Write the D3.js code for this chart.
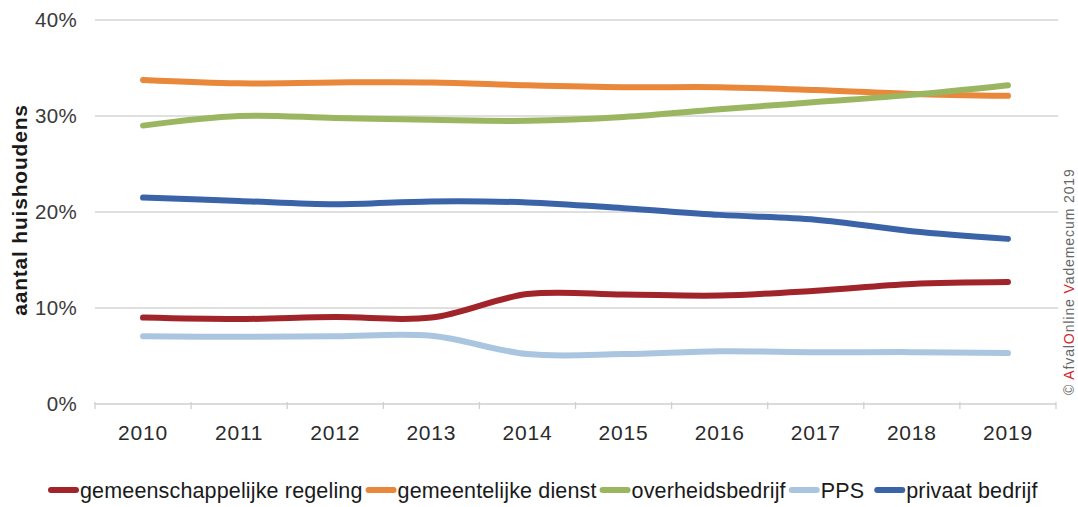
<!DOCTYPE html>
<html>
<head>
<meta charset="utf-8">
<script src="https://cdn.jsdelivr.net/npm/d3@7"></script>
<style>
  html, body { margin: 0; padding: 0; background: #fff; }
  svg { display: block; font-family: "Liberation Sans", Arial, Helvetica, sans-serif; }
</style>
</head>
<body>
<svg id="chart" width="1078" height="507"></svg>
<script>
// Aandeel huishoudens per type inzameldienst, 2010-2019 (in %)
const years = ["2010", "2011", "2012", "2013", "2014", "2015", "2016", "2017", "2018", "2019"];
const yTicks = [0, 10, 20, 30, 40];

const gemeenschappelijkeRegeling = [9.0, 8.85, 9.05, 9.0, 11.45, 11.4, 11.3, 11.8, 12.5, 12.7];
const gemeentelijkeDienst        = [33.75, 33.4, 33.5, 33.5, 33.2, 33.0, 33.0, 32.7, 32.3, 32.1];
const overheidsbedrijf           = [29.0, 30.0, 29.8, 29.6, 29.5, 29.9, 30.7, 31.45, 32.2, 33.2];
const pps                        = [7.05, 7.0, 7.05, 7.1, 5.2, 5.2, 5.5, 5.4, 5.4, 5.3];
const privaatBedrijf             = [21.5, 21.15, 20.8, 21.1, 21.0, 20.4, 19.7, 19.2, 18.0, 17.2];

const seriesNames  = ["gemeenschappelijke regeling", "gemeentelijke dienst", "overheidsbedrijf", "PPS", "privaat bedrijf"];
const seriesColors = ["#a1242a", "#e9883a", "#9bb660", "#a9c5e0", "#3a63a8"];
const seriesValues = [gemeenschappelijkeRegeling, gemeentelijkeDienst, overheidsbedrijf, pps, privaatBedrijf];

const svg = d3.select("#chart");
const plotLeft = 95, plotRight = 1056, plotTop = 20, plotBottom = 404;

const x = d3.scalePoint().domain(years).range([plotLeft, plotRight]).padding(0.5);
const band = d3.scaleBand().domain(years).range([plotLeft, plotRight]);
const y = d3.scaleLinear().domain([0, 40]).range([plotBottom, plotTop]);

// gridlines
svg.append("g")
  .selectAll("line")
  .data(yTicks.filter(d => d > 0))
  .join("line")
  .attr("x1", plotLeft).attr("x2", 1058)
  .attr("y1", d => y(d)).attr("y2", d => y(d))
  .attr("stroke", "#d4d4d4").attr("stroke-width", 1.3);

// y tick labels
svg.append("g")
  .selectAll("text")
  .data(yTicks)
  .join("text")
  .attr("x", 77)
  .attr("y", d => y(d))
  .attr("dy", "0.35em")
  .attr("text-anchor", "end")
  .attr("fill", "#3a3a3a")
  .attr("font-size", 20.5)
  .attr("letter-spacing", 0.3)
  .text(d => d + "%");

// x axis with category boundary ticks
const xAxis = svg.append("g").attr("transform", `translate(0,${plotBottom})`);
xAxis.append("line")
  .attr("x1", plotLeft).attr("x2", plotRight)
  .attr("stroke", "#cfcfcf").attr("stroke-width", 1.3);
xAxis.selectAll("line.tick")
  .data(years.map(d => band(d)).concat([plotRight]))
  .join("line")
  .attr("class", "tick")
  .attr("x1", d => d).attr("x2", d => d)
  .attr("y1", -2).attr("y2", 5)
  .attr("stroke", "#cfcfcf").attr("stroke-width", 1.3);
xAxis.selectAll("text")
  .data(years)
  .join("text")
  .attr("x", d => x(d))
  .attr("y", 36)
  .attr("text-anchor", "middle")
  .attr("fill", "#2a2a2a")
  .attr("font-size", 21)
  .attr("letter-spacing", 0.8)
  .text(d => d);

// y axis title
svg.append("text")
  .attr("transform", "translate(27,210) rotate(-90)")
  .attr("text-anchor", "middle")
  .attr("font-weight", "bold")
  .attr("font-size", 21)
  .attr("letter-spacing", 0.8)
  .attr("fill", "#1a1a1a")
  .text("aantal huishoudens");

// lines
const line = d3.line()
  .x((d, i) => x(years[i]))
  .y(d => y(d))
  .curve(d3.curveCatmullRom.alpha(0.5));

svg.append("g")
  .selectAll("path")
  .data(seriesValues)
  .join("path")
  .attr("d", d => line(d))
  .attr("fill", "none")
  .attr("stroke", (d, i) => seriesColors[i])
  .attr("stroke-width", 6)
  .attr("stroke-linecap", "round")
  .attr("stroke-linejoin", "round");

// legend: swatch and label chained one after another
const legend = svg.append("g").attr("transform", "translate(0,490)");
let cursor = 48;
seriesNames.forEach((name, i) => {
  legend.append("line")
    .attr("x1", cursor + 3).attr("x2", cursor + 28)
    .attr("stroke", seriesColors[i])
    .attr("stroke-width", 6)
    .attr("stroke-linecap", "round");
  const t = legend.append("text")
    .attr("x", cursor + 32)
    .attr("dy", "0.35em")
    .attr("font-size", 21.5)
    .attr("letter-spacing", 0.15)
    .attr("fill", "#1a1a1a")
    .text(name);
  cursor += 32 + t.node().getComputedTextLength() + (name === "PPS" ? 10 : 3);
});

// copyright notice
const copy = svg.append("text")
  .attr("transform", "translate(1074,395) rotate(-90)")
  .attr("font-size", 14)
  .attr("letter-spacing", 0.9)
  .attr("fill", "#666");
copy.append("tspan").text("© ");
copy.append("tspan").attr("fill", "#d4242a").text("A");
copy.append("tspan").text("fval");
copy.append("tspan").attr("fill", "#d4242a").text("O");
copy.append("tspan").text("nline ");
copy.append("tspan").attr("fill", "#d4242a").text("V");
copy.append("tspan").text("ademecum 2019");
</script>
</body>
</html>
